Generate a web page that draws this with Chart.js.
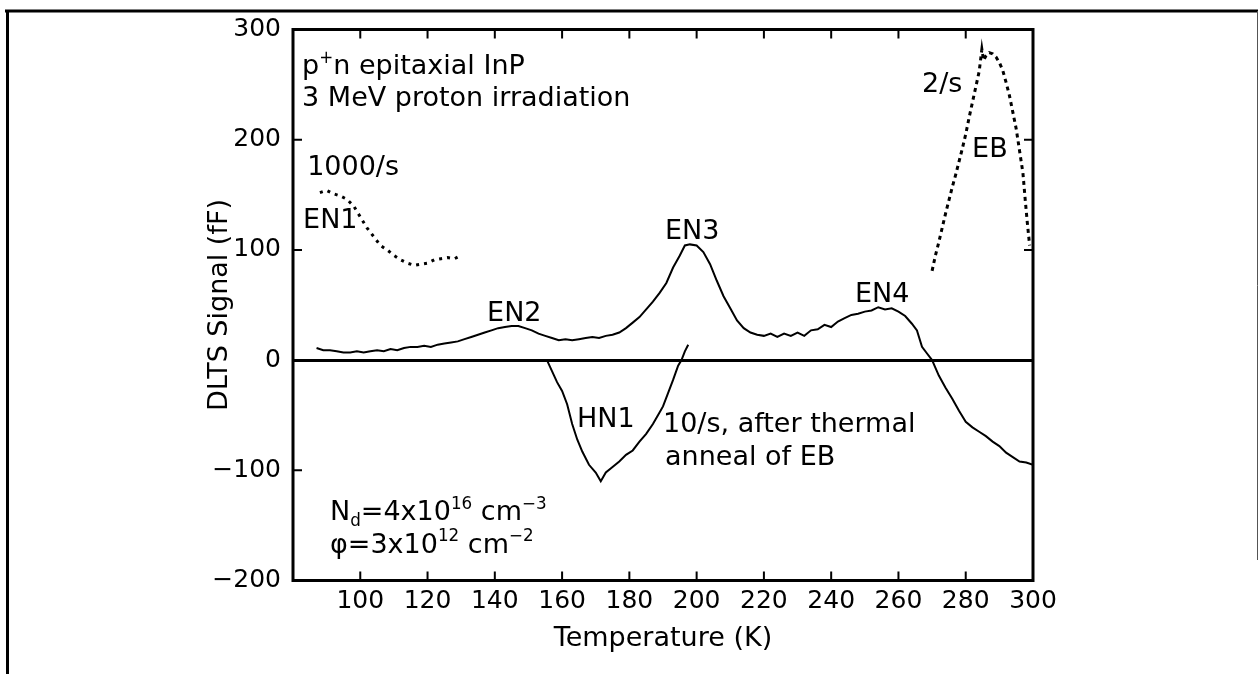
<!DOCTYPE html>
<html>
<head>
<meta charset="utf-8">
<script src="https://cdn.jsdelivr.net/npm/chart.js@4.4.1/dist/chart.umd.min.js"></script>
<style>
  html, body { margin: 0; padding: 0; background: #fff; }
  canvas { display: block; }
</style>
</head>
<body>
<canvas id="myChart" width="1260" height="674"></canvas>
<script>
// 10/s rate window, after thermal anneal of EB (temperature K / signal fF)
const annealTemps = [87, 89, 91, 93, 95, 97, 99, 101, 103, 105, 107, 109, 111, 113, 115, 117, 119, 121, 123, 125,
  127, 129, 131, 133, 135, 137, 139, 141, 143, 145, 147, 149, 151, 153, 155, 157, 159, 161, 163, 165,
  167, 169, 171, 173, 175, 177, 179, 181, 183, 185, 187, 189, 191, 193, 195, 196.5, 198, 200, 202, 204,
  206, 208, 210, 212, 214, 216, 218, 220, 222, 224, 226, 228, 230, 232, 234, 236, 238, 240, 242, 244,
  246, 248, 250, 252, 254, 256, 258, 260, 262, 264, 265.5, 267, 268.5, 270, 271, 272, 274, 276, 278, 280,
  282, 284, 286, 288, 290, 292, 294, 296, 298, 300]
const annealSignal = [11, 9, 9, 8, 7, 7, 8, 7, 8, 9, 8, 10, 9, 11, 12, 12, 13, 12, 14, 15,
  16, 17, 19, 21, 23, 25, 27, 29, 30, 31, 31, 29, 27, 24, 22, 20, 18, 19, 18, 19,
  20, 21, 20, 22, 23, 25, 29, 34, 39, 46, 53, 61, 70, 84, 95, 104, 105, 104, 98, 87,
  72, 58, 47, 36, 29, 25, 23, 22, 24, 21, 24, 22, 25, 22, 27, 28, 32, 30, 35, 38,
  41, 42, 44, 45, 48, 46, 47, 44, 40, 33, 27, 12, 6, 0, -7, -14, -25, -35, -46, -56,
  -61, -65, -69, -74, -78, -84, -88, -92, -93, -95]

// HN1 minority carrier peak
const hn1Temps = [155.5, 157, 158.5, 160, 161.5, 163, 164.5, 166, 168, 170, 171.5, 173, 175, 177, 179, 181,
  183, 185, 187, 188.5, 190, 191.5, 193, 194.5, 195.5, 196.5, 197.5]
const hn1Signal = [0, -10, -20, -28, -40, -58, -72, -83, -95, -102, -110, -102, -97, -92, -86, -82,
  -74, -67, -58, -50, -42, -30, -18, -5, 0, 8, 14]

// 1000/s rate window (EN1)
const en1Temps = [88, 90, 92, 94, 96, 98, 100, 102, 104, 106, 108, 110, 112, 114, 116, 118, 120, 122, 124, 126, 128, 130]
const en1Signal = [152, 154, 151, 149, 146, 140, 130, 120, 112, 104, 100, 95, 91, 88, 86, 87, 88, 91, 92, 93, 92, 95]

// 2/s rate window (EB)
const ebTemps = [270, 271, 272, 273, 274, 275, 276, 277, 278, 279, 280, 281, 282, 283, 284, 284.8, 285.3,
  286, 287, 288, 289, 290, 291, 292, 293, 294, 295, 296, 297, 297.7, 298.3, 299]
const ebSignal = [81, 95, 107, 120, 133, 145, 157, 168, 180, 192, 205, 220, 234, 248, 262, 282, 272,
  276, 279, 278, 275, 270, 263, 252, 240, 225, 210, 190, 170, 145, 125, 104]

const xTickValues = [100, 120, 140, 160, 180, 200, 220, 240, 260, 280, 300]
const yTickValues = [-200, -100, 0, 100, 200, 300]

// text labels placed in data units (left edge, baseline)
const notes = [
  { parts: [{ t: 'p' }, { t: '+', sup: true }, { t: 'n epitaxial InP' }], x: 82.7, y: 259.6 },
  { parts: [{ t: '3 MeV proton irradiation' }], x: 82.7, y: 230.7 },
  { parts: [{ t: '1000/s' }], x: 84.2, y: 168 },
  { parts: [{ t: 'EN1' }], x: 83, y: 119.6 },
  { parts: [{ t: 'EN2' }], x: 137.7, y: 35.8 },
  { parts: [{ t: 'EN3' }], x: 190.6, y: 109.6 },
  { parts: [{ t: 'EN4' }], x: 247.1, y: 53 },
  { parts: [{ t: '2/s' }], x: 267, y: 243.6 },
  { parts: [{ t: 'EB' }], x: 281.9, y: 184.6 },
  { parts: [{ t: 'HN1' }], x: 164.4, y: -61 },
  { parts: [{ t: '10/s, after thermal' }], x: 190, y: -65 },
  { parts: [{ t: 'anneal of EB' }], x: 190.6, y: -95.2 },
  { parts: [{ t: 'N' }, { t: 'd', sub: true }, { t: '=4x10' }, { t: '16', sup: true }, { t: ' cm' }, { t: '\u22123', sup: true }], x: 91, y: -145 },
  { parts: [{ t: '\u03c6=3x10' }, { t: '12', sup: true }, { t: ' cm' }, { t: '\u22122', sup: true }], x: 91, y: -174.8 }
]

const toPoints = (xs, ys) => xs.map((x, i) => ({ x: x, y: ys[i] }))

const FONT = "'DejaVu Sans'"
Chart.defaults.font.family = FONT
Chart.defaults.color = '#000'

function drawRich(ctx, parts, x, y, size) {
  let cx = x
  parts.forEach(p => {
    const small = p.sup || p.sub
    const s = small ? size * 0.62 : size
    ctx.font = s + 'px ' + FONT
    const dy = p.sup ? -size * 0.42 : p.sub ? size * 0.22 : 0
    ctx.fillText(p.t, cx, y + dy)
    cx += ctx.measureText(p.t).width
  })
}

const framePlugin = {
  id: 'frame',
  afterDraw(chart) {
    const { ctx, chartArea: a, scales: { x, y } } = chart
    ctx.save()
    ctx.strokeStyle = '#000'
    ctx.lineCap = 'butt'

    // page border
    ctx.lineWidth = 3
    ctx.beginPath()
    ctx.moveTo(5, 11)
    ctx.lineTo(1258, 11)
    ctx.moveTo(7.5, 10)
    ctx.lineTo(7.5, 674)
    ctx.stroke()
    ctx.lineWidth = 1
    ctx.strokeStyle = '#555'
    ctx.beginPath()
    ctx.moveTo(1257.5, 11)
    ctx.lineTo(1257.5, 560)
    ctx.stroke()

    // plot box
    ctx.strokeStyle = '#000'
    ctx.lineWidth = 3
    ctx.strokeRect(a.left, a.top, a.right - a.left, a.bottom - a.top)

    // inward tick marks
    ctx.lineWidth = 2
    ctx.beginPath()
    xTickValues.forEach(v => {
      if (v >= 300) return
      const px = x.getPixelForValue(v)
      ctx.moveTo(px, a.bottom)
      ctx.lineTo(px, a.bottom - 9)
      ctx.moveTo(px, a.top)
      ctx.lineTo(px, a.top + 9)
    })
    yTickValues.forEach(v => {
      if (v === 300 || v === -200 || v === 0) return
      const py = y.getPixelForValue(v)
      ctx.moveTo(a.left, py)
      ctx.lineTo(a.left + 9, py)
      if (v > 0) {
        ctx.moveTo(a.right, py)
        ctx.lineTo(a.right - 9, py)
      }
    })
    ctx.stroke()

    // text labels
    ctx.fillStyle = '#000'
    ctx.textBaseline = 'alphabetic'
    ctx.textAlign = 'left'
    notes.forEach(n => {
      drawRich(ctx, n.parts, x.getPixelForValue(n.x), y.getPixelForValue(n.y), 27)
    })
    ctx.restore()
  }
}

const ctx = document.getElementById('myChart')
const chart = new Chart(ctx, {
  type: 'line',
  data: {
    datasets: [
      {
        label: '10/s, after thermal anneal of EB',
        data: toPoints(annealTemps, annealSignal),
        borderColor: '#000',
        borderWidth: 2,
        pointRadius: 0
      },
      {
        label: 'HN1',
        data: toPoints(hn1Temps, hn1Signal),
        borderColor: '#000',
        borderWidth: 2,
        pointRadius: 0
      },
      {
        label: '1000/s',
        data: toPoints(en1Temps, en1Signal),
        borderColor: '#000',
        borderWidth: 3,
        borderDash: [3, 5],
        pointRadius: 0
      },
      {
        label: '2/s',
        data: toPoints(ebTemps, ebSignal),
        borderColor: '#000',
        borderWidth: 3,
        borderDash: [4, 4],
        pointRadius: 0
      }
    ]
  },
  options: {
    responsive: false,
    animation: false,
    devicePixelRatio: 1,
    layout: { padding: { left: 0, right: 227, top: 29.5, bottom: 0 } },
    plugins: {
      legend: { display: false },
      tooltip: { enabled: false }
    },
    scales: {
      x: {
        type: 'linear',
        min: 80,
        max: 300,
        afterBuildTicks: s => { s.ticks = xTickValues.map(v => ({ value: v })) },
        afterFit: s => { s.height = 674 - 580.5 },
        grid: { display: false, drawTicks: false },
        border: { display: false },
        ticks: { padding: 6, maxRotation: 0, autoSkip: false, font: { size: 25 }, color: '#000' },
        title: { display: true, text: 'Temperature (K)', font: { size: 27 }, color: '#000', padding: { top: 0, bottom: 19 } }
      },
      y: {
        min: -200,
        max: 300,
        afterBuildTicks: s => { s.ticks = yTickValues.map(v => ({ value: v })) },
        afterFit: s => { s.width = 293 },
        grid: {
          drawTicks: false,
          color: c => (c.tick && c.tick.value === 0 ? '#000' : 'rgba(0,0,0,0)'),
          lineWidth: 3
        },
        border: { display: false },
        ticks: {
          padding: 12,
          font: { size: 25 },
          color: '#000',
          callback: v => String(v).replace('-', '\u2212')
        },
        title: { display: true, text: 'DLTS Signal (fF)', font: { size: 27 }, color: '#000', padding: { top: 204, bottom: 0 } }
      }
    }
  },
  plugins: [framePlugin]
})
</script>
</body>
</html>
